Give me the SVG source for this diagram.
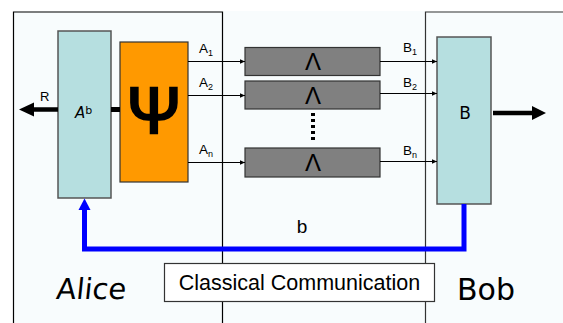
<svg xmlns="http://www.w3.org/2000/svg" width="563" height="323" viewBox="0 0 563 323">
<style>
.lbl{font-family:"Liberation Sans",Arial,sans-serif;fill:#000}
.hand{font-family:"DejaVu Sans","Liberation Sans",sans-serif;fill:#000}
.ch{fill:#808080;stroke:#333;stroke-width:1.2}
.thin{stroke:#000;stroke-width:1;fill:none}
.cyan{fill:#b6dfe0;stroke:#555;stroke-width:1.5}
</style>
<defs>
<marker id="sm" markerWidth="6" markerHeight="6" refX="5" refY="3" orient="auto" markerUnits="userSpaceOnUse">
<path d="M0,0.8 L5,3 L0,5.2 Z" fill="#000"/>
</marker>
</defs>
<rect x="0" y="0" width="563" height="323" fill="#fff"/>
<rect x="13" y="11" width="560" height="320" fill="#f8fcfd"/>
<g id="alice-panel">
<path d="M13.5,323 V12 H222.5 V323" fill="none" stroke="#000" stroke-width="1.2"/>
<text x="56" y="299" class="hand" font-size="29" transform="skewX(-6) translate(31,0)">Alice</text>
</g>
<g id="bob-panel">
<path d="M425.5,323 V12 H563" fill="none" stroke="#333" stroke-width="1.2"/>
<text x="457" y="300" class="hand" font-size="30">Bob</text>
</g>
<g id="node-Ab">
<rect x="58" y="31" width="53" height="167" class="cyan"/>
<text x="75" y="118" class="hand" font-size="15" font-style="italic">A<tspan font-size="11" dy="-4" font-style="normal">b</tspan></text>
</g>
<g id="node-psi">
<rect x="120" y="42" width="68" height="140" fill="#ff9900" stroke="#333" stroke-width="1.2"/>
<text x="154" y="133" class="lbl" font-size="65" text-anchor="middle" stroke="#000" stroke-width="2.5">Ψ</text>
</g>
<g id="channel-1">
<rect x="245" y="47.5" width="135" height="28" class="ch"/>
<text x="313" y="70" class="lbl" font-size="24" text-anchor="middle">Λ</text>
</g>
<g id="channel-2">
<rect x="245" y="81" width="135" height="28" class="ch"/>
<text x="313" y="104" class="lbl" font-size="24" text-anchor="middle">Λ</text>
</g>
<g id="channel-n">
<rect x="245" y="148" width="135" height="29" class="ch"/>
<text x="313" y="171" class="lbl" font-size="24" text-anchor="middle">Λ</text>
</g>
<g id="dots">
<line x1="313" y1="113" x2="313" y2="141" stroke="#000" stroke-width="4" stroke-dasharray="3,3"/>
</g>
<g id="node-B">
<rect x="437" y="37" width="54" height="167" class="cyan"/>
<text x="465" y="119" class="hand" font-size="17" text-anchor="middle">B</text>
</g>
<g id="classical">
<rect x="164.5" y="263.5" width="270" height="38" fill="#fff" stroke="#333" stroke-width="1.2"/>
<text x="299.5" y="290" class="lbl" font-size="21.5" text-anchor="middle">Classical Communication</text>
</g>
<g id="connectors">
<line x1="111" y1="109.5" x2="120" y2="109.5" stroke="#000" stroke-width="5"/>
<line x1="58" y1="109.5" x2="32" y2="109.5" stroke="#000" stroke-width="4.5"/>
<path d="M19,109.5 L34,102.5 L34,116.5 Z" fill="#000"/>
<line x1="493" y1="113" x2="533" y2="113" stroke="#000" stroke-width="4.5"/>
<path d="M546,113 L532,106 L532,120 Z" fill="#000"/>
<line x1="188" y1="61.5" x2="245" y2="61.5" class="thin" marker-end="url(#sm)"/>
<line x1="188" y1="95.5" x2="245" y2="95.5" class="thin" stroke="#666" marker-end="url(#sm)"/>
<line x1="188" y1="162.5" x2="245" y2="162.5" class="thin" marker-end="url(#sm)"/>
<line x1="380" y1="61.5" x2="437" y2="61.5" class="thin" marker-end="url(#sm)"/>
<line x1="380" y1="93.5" x2="437" y2="93.5" class="thin" marker-end="url(#sm)"/>
<line x1="380" y1="161.5" x2="437" y2="161.5" class="thin" marker-end="url(#sm)"/>
<path d="M464,204 V249 H84.5 V208" fill="none" stroke="#0000ff" stroke-width="5"/>
<path d="M84.5,198.5 L78.5,210 L90.5,210 Z" fill="#0000ff"/>
<text x="40" y="101" class="lbl" font-size="13">R</text>
<text x="199" y="52.5" class="lbl" font-size="13.5">A<tspan font-size="9" dy="3">1</tspan></text>
<text x="199" y="87" class="lbl" font-size="13.5">A<tspan font-size="9" dy="3">2</tspan></text>
<text x="199" y="154" class="lbl" font-size="13.5">A<tspan font-size="9" dy="3">n</tspan></text>
<text x="403" y="52" class="lbl" font-size="13.5">B<tspan font-size="9" dy="3">1</tspan></text>
<text x="403" y="87" class="lbl" font-size="13.5">B<tspan font-size="9" dy="3">2</tspan></text>
<text x="403" y="155" class="lbl" font-size="13.5">B<tspan font-size="9" dy="3">n</tspan></text>
<text x="302" y="233" class="lbl" font-size="19" text-anchor="middle">b</text>
</g>
</svg>
